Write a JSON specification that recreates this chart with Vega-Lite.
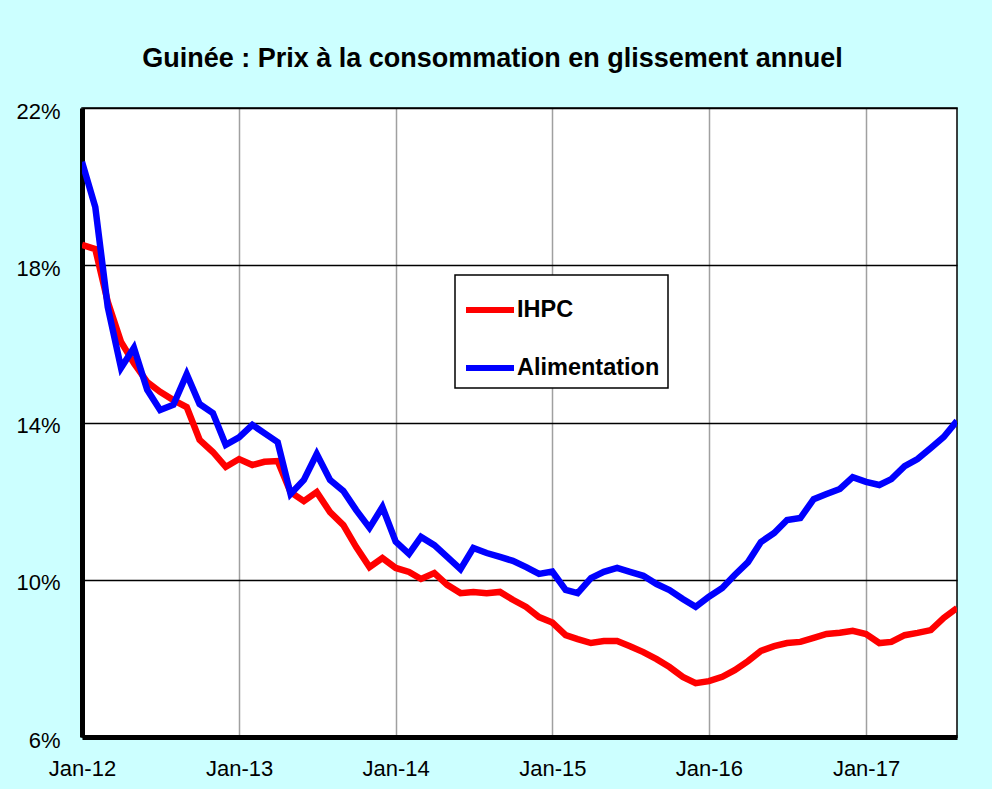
{
  "$schema": "https://vega.github.io/schema/vega-lite/v6.json",
  "width": 875,
  "height": 629,
  "autosize": {"type": "none"},
  "padding": {"left": 82, "top": 108, "right": 35, "bottom": 52},
  "background": "#ccffff",
  "title": {
    "text": "Guinée : Prix à la consommation en glissement annuel",
    "font": "Liberation Sans",
    "fontSize": 27,
    "fontWeight": "bold",
    "color": "#000000",
    "anchor": "middle",
    "baseline": "alphabetic",
    "offset": 40,
    "dx": -27,
    "dy": 34
  },
  "data": {
    "values": [
      {"d": "2012-01-01", "IHPC": 18.52, "Alimentation": 20.63},
      {"d": "2012-02-01", "IHPC": 18.41, "Alimentation": 19.48},
      {"d": "2012-03-01", "IHPC": 17.07, "Alimentation": 16.94},
      {"d": "2012-04-01", "IHPC": 16.05, "Alimentation": 15.39},
      {"d": "2012-05-01", "IHPC": 15.51, "Alimentation": 15.9},
      {"d": "2012-06-01", "IHPC": 15.03, "Alimentation": 14.83},
      {"d": "2012-07-01", "IHPC": 14.78, "Alimentation": 14.32},
      {"d": "2012-08-01", "IHPC": 14.57, "Alimentation": 14.45},
      {"d": "2012-09-01", "IHPC": 14.39, "Alimentation": 15.23},
      {"d": "2012-10-01", "IHPC": 13.56, "Alimentation": 14.47},
      {"d": "2012-11-01", "IHPC": 13.25, "Alimentation": 14.24},
      {"d": "2012-12-01", "IHPC": 12.87, "Alimentation": 13.43},
      {"d": "2013-01-01", "IHPC": 13.07, "Alimentation": 13.62},
      {"d": "2013-02-01", "IHPC": 12.92, "Alimentation": 13.94},
      {"d": "2013-03-01", "IHPC": 13.0, "Alimentation": 13.73},
      {"d": "2013-04-01", "IHPC": 13.02, "Alimentation": 13.5},
      {"d": "2013-05-01", "IHPC": 12.23, "Alimentation": 12.18},
      {"d": "2013-06-01", "IHPC": 12.0, "Alimentation": 12.54},
      {"d": "2013-07-01", "IHPC": 12.23, "Alimentation": 13.2},
      {"d": "2013-08-01", "IHPC": 11.72, "Alimentation": 12.54},
      {"d": "2013-09-01", "IHPC": 11.39, "Alimentation": 12.26},
      {"d": "2013-10-01", "IHPC": 10.83, "Alimentation": 11.77},
      {"d": "2013-11-01", "IHPC": 10.32, "Alimentation": 11.32},
      {"d": "2013-12-01", "IHPC": 10.55, "Alimentation": 11.85},
      {"d": "2014-01-01", "IHPC": 10.3, "Alimentation": 10.97},
      {"d": "2014-02-01", "IHPC": 10.2, "Alimentation": 10.66},
      {"d": "2014-03-01", "IHPC": 10.02, "Alimentation": 11.09},
      {"d": "2014-04-01", "IHPC": 10.17, "Alimentation": 10.88},
      {"d": "2014-05-01", "IHPC": 9.87, "Alimentation": 10.58},
      {"d": "2014-06-01", "IHPC": 9.66, "Alimentation": 10.27},
      {"d": "2014-07-01", "IHPC": 9.69, "Alimentation": 10.81},
      {"d": "2014-08-01", "IHPC": 9.66, "Alimentation": 10.68},
      {"d": "2014-09-01", "IHPC": 9.69, "Alimentation": 10.58},
      {"d": "2014-10-01", "IHPC": 9.49, "Alimentation": 10.48},
      {"d": "2014-11-01", "IHPC": 9.31, "Alimentation": 10.32},
      {"d": "2014-12-01", "IHPC": 9.05, "Alimentation": 10.15},
      {"d": "2015-01-01", "IHPC": 8.91, "Alimentation": 10.21},
      {"d": "2015-02-01", "IHPC": 8.59, "Alimentation": 9.74},
      {"d": "2015-03-01", "IHPC": 8.49, "Alimentation": 9.66},
      {"d": "2015-04-01", "IHPC": 8.39, "Alimentation": 10.04},
      {"d": "2015-05-01", "IHPC": 8.44, "Alimentation": 10.2},
      {"d": "2015-06-01", "IHPC": 8.44, "Alimentation": 10.3},
      {"d": "2015-07-01", "IHPC": 8.31, "Alimentation": 10.2},
      {"d": "2015-08-01", "IHPC": 8.16, "Alimentation": 10.1},
      {"d": "2015-09-01", "IHPC": 7.98, "Alimentation": 9.89},
      {"d": "2015-10-01", "IHPC": 7.78, "Alimentation": 9.74},
      {"d": "2015-11-01", "IHPC": 7.53, "Alimentation": 9.51},
      {"d": "2015-12-01", "IHPC": 7.37, "Alimentation": 9.31},
      {"d": "2016-01-01", "IHPC": 7.42, "Alimentation": 9.57},
      {"d": "2016-02-01", "IHPC": 7.53, "Alimentation": 9.79},
      {"d": "2016-03-01", "IHPC": 7.7, "Alimentation": 10.12},
      {"d": "2016-04-01", "IHPC": 7.93, "Alimentation": 10.45},
      {"d": "2016-05-01", "IHPC": 8.19, "Alimentation": 10.96},
      {"d": "2016-06-01", "IHPC": 8.31, "Alimentation": 11.19},
      {"d": "2016-07-01", "IHPC": 8.39, "Alimentation": 11.52},
      {"d": "2016-08-01", "IHPC": 8.42, "Alimentation": 11.57},
      {"d": "2016-09-01", "IHPC": 8.52, "Alimentation": 12.05},
      {"d": "2016-10-01", "IHPC": 8.62, "Alimentation": 12.18},
      {"d": "2016-11-01", "IHPC": 8.65, "Alimentation": 12.31},
      {"d": "2016-12-01", "IHPC": 8.7, "Alimentation": 12.61},
      {"d": "2017-01-01", "IHPC": 8.62, "Alimentation": 12.49},
      {"d": "2017-02-01", "IHPC": 8.39, "Alimentation": 12.41},
      {"d": "2017-03-01", "IHPC": 8.42, "Alimentation": 12.56},
      {"d": "2017-04-01", "IHPC": 8.59, "Alimentation": 12.89},
      {"d": "2017-05-01", "IHPC": 8.65, "Alimentation": 13.07},
      {"d": "2017-06-01", "IHPC": 8.72, "Alimentation": 13.35},
      {"d": "2017-07-01", "IHPC": 9.03, "Alimentation": 13.63},
      {"d": "2017-08-01", "IHPC": 9.28, "Alimentation": 14.04}
    ]
  },
  "transform": [{"fold": ["IHPC", "Alimentation"], "as": ["serie", "valeur"]}],
  "mark": {"type": "line", "strokeWidth": 6.5, "clip": true},
  "encoding": {
    "x": {
      "field": "d",
      "type": "temporal",
      "scale": {
        "type": "utc",
        "domain": [
          {"year": 2012, "month": 1, "date": 1, "utc": true},
          {"year": 2017, "month": 8, "date": 1, "utc": true}
        ],
        "nice": false
      },
      "axis": {
        "title": null,
        "values": [
          {"year": 2012, "month": 1, "date": 1, "utc": true},
          {"year": 2013, "month": 1, "date": 1, "utc": true},
          {"year": 2014, "month": 1, "date": 1, "utc": true},
          {"year": 2015, "month": 1, "date": 1, "utc": true},
          {"year": 2016, "month": 1, "date": 1, "utc": true},
          {"year": 2017, "month": 1, "date": 1, "utc": true}
        ],
        "labelExpr": "utcFormat(datum.value, '%b-%y')",
        "labelFont": "Liberation Sans",
        "labelFontSize": 22,
        "labelColor": "#000000",
        "labelPadding": 21,
        "labelFlush": false,
        "labelOverlap": false,
        "domainColor": "#000000",
        "domainWidth": 5,
        "tickSize": 0,
        "grid": true,
        "gridColor": "#a0a0a0",
        "gridWidth": 1.5,
        "gridOpacity": 1
      }
    },
    "y": {
      "field": "valeur",
      "type": "quantitative",
      "scale": {"domain": [6, 22], "nice": false, "zero": false},
      "axis": {
        "title": null,
        "values": [6, 10, 14, 18, 22],
        "labelExpr": "datum.value + '%'",
        "labelFont": "Liberation Sans",
        "labelFontSize": 22,
        "labelColor": "#000000",
        "labelPadding": 22,
        "labelOffset": 3,
        "labelFlush": false,
        "labelOverlap": false,
        "domainColor": "#000000",
        "domainWidth": 5,
        "tickSize": 0,
        "grid": true,
        "gridColor": "#000000",
        "gridWidth": 1.5,
        "gridOpacity": 1
      }
    },
    "color": {
      "field": "serie",
      "type": "nominal",
      "sort": ["IHPC", "Alimentation"],
      "scale": {"domain": ["IHPC", "Alimentation"], "range": ["#ff0000", "#0000ff"]},
      "legend": {
        "title": null,
        "orient": "none",
        "legendX": 373,
        "legendY": 167,
        "padding": 8,
        "fillColor": "#ffffff",
        "strokeColor": "#000000",
        "cornerRadius": 0,
        "symbolType": "stroke",
        "symbolSize": 2304,
        "symbolStrokeWidth": 6,
        "rowPadding": 19,
        "labelFont": "Liberation Sans",
        "labelFontSize": 23.5,
        "labelFontWeight": "bold",
        "labelColor": "#000000",
        "labelOffset": 0,
        "labelLimit": 300,
        "encode": {"legend": {"update": {"strokeWidth": {"value": 1.5}}}}
      }
    }
  },
  "config": {
    "view": {"fill": "#ffffff", "stroke": "#000000", "strokeWidth": 1.5}
  }
}
